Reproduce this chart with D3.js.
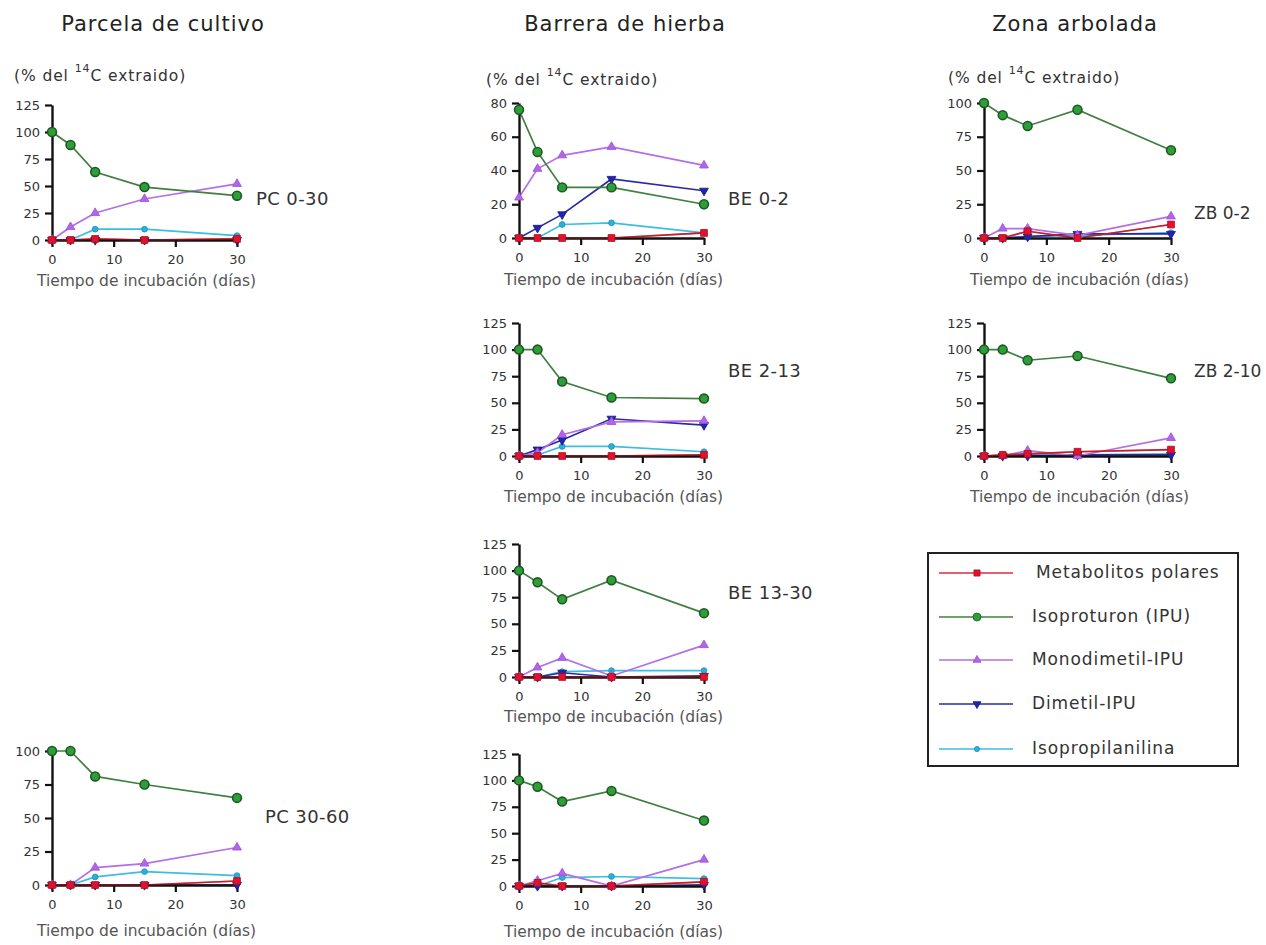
<!DOCTYPE html>
<html>
<head>
<meta charset="utf-8">
<script src="https://cdn.jsdelivr.net/npm/d3@7"></script>
<style>
  html, body { margin: 0; padding: 0; background: #fff; }
  svg { display: block; }
  text { font-family: "DejaVu Sans", "Liberation Sans", sans-serif; }
</style>
</head>
<body>
<svg id="chart" width="1266" height="945"></svg>
<script>
// Incubation times (days)
const days = [0, 3, 7, 15, 30];

// Compounds, in legend order
const compounds = ["Metabolitos polares", "Isoproturon (IPU)", "Monodimetil-IPU", "Dimetil-IPU", "Isopropilanilina"];

// Column headings and panel labels
const columnTitles = ["Parcela de cultivo", "Barrera de hierba", "Zona arbolada"];
const panelLabels = ["PC 0-30", "BE 0-2", "ZB 0-2", "BE 2-13", "ZB 2-10", "BE 13-30", "PC 30-60", ""];

// Axis ticks
const xTicks = [0, 10, 20, 30];
const yTicks125 = [0, 25, 50, 75, 100, 125];
const yTicks100 = [0, 25, 50, 75, 100];
const yTicks80 = [0, 20, 40, 60, 80];

// % of extracted 14C, one row per compound (polar, IPU, monodimetil, dimetil, isopropilanilina)
const pc030 = [
  [0, 0, 1, 0, 1],
  [100, 88, 63, 49, 41],
  [0, 12, 25, 38, 52],
  [0, 0, 0, 0, 0],
  [0, 0, 10, 10, 4]
];
const be02 = [
  [0, 0, 0, 0, 3],
  [76, 51, 30, 30, 20],
  [24, 41, 49, 54, 43],
  [0, 6, 14, 35, 28],
  [0, 0, 8, 9, 3]
];
const zb02 = [
  [0, 0, 5, 0, 10],
  [100, 91, 83, 95, 65],
  [0, 7, 7, 2, 16],
  [0, 0, 1, 3, 3],
  [0, 0, 1, 2, 4]
];
const be213 = [
  [0, 0, 0, 0, 1],
  [100, 100, 70, 55, 54],
  [0, 3, 20, 32, 33],
  [0, 6, 15, 35, 29],
  [0, 1, 9, 9, 4]
];
const zb210 = [
  [0, 1, 2, 4, 6],
  [100, 100, 90, 94, 73],
  [0, 0, 5, 0, 17],
  [0, 0, 0, 1, 1],
  [0, 0, 1, 1, 2]
];
const be1330 = [
  [0, 0, 0, 0, 0],
  [100, 89, 73, 91, 60],
  [0, 9, 18, 1, 30],
  [0, 0, 4, 0, 1],
  [0, 0, 5, 6, 6]
];
const pc3060 = [
  [0, 0, 0, 0, 3],
  [100, 100, 81, 75, 65],
  [0, 0, 13, 16, 28],
  [0, 0, 0, 0, 0],
  [0, 0, 6, 10, 7]
];
const be3060 = [
  [0, 3, 0, 0, 4],
  [100, 94, 80, 90, 62],
  [0, 5, 12, 0, 25],
  [0, 0, 0, 0, 1],
  [0, 0, 8, 9, 7]
];

// Visual style per compound
const styles = [
  { line: "#e0283c", fill: "#e3122c", stroke: "#a80c1c", shape: d3.symbolSquare, size: 46, rot: 0 },
  { line: "#3f7f3f", fill: "#2f9e3a", stroke: "#1c5a22", shape: d3.symbolCircle, size: 62, rot: 0 },
  { line: "#b46ee6", fill: "#b065ea", stroke: "#9a50d6", shape: d3.symbolTriangle, size: 34, rot: 0 },
  { line: "#2a2aa8", fill: "#2323b4", stroke: "#15157a", shape: d3.symbolTriangle, size: 34, rot: 180 },
  { line: "#3cbde2", fill: "#2bb0dc", stroke: "#1a8fb8", shape: d3.symbolCircle, size: 26, rot: 0 }
];
// draw order: isopropilanilina, dimetil, monodimetil, IPU, polar on top
const drawOrder = [4, 3, 2, 1, 0];

const svg = d3.select("#chart");

// Panel frames
const layout = [
  { data: pc030,  label: panelLabels[0], x0: 52,  x1: 237,  y0: 240, y1: 105, max: 125, ticks: yTicks125, lx: 256,  ly: 200, lfs: 18, tGap: 41 },
  { data: be02,   label: panelLabels[1], x0: 519, x1: 704,  y0: 238, y1: 103, max: 80,  ticks: yTicks80,  lx: 728,  ly: 200, lfs: 18, tGap: 42 },
  { data: zb02,   label: panelLabels[2], x0: 984, x1: 1171, y0: 238, y1: 103, max: 100, ticks: yTicks100, lx: 1194, ly: 214, lfs: 17, tGap: 42 },
  { data: be213,  label: panelLabels[3], x0: 519, x1: 704,  y0: 456, y1: 323, max: 125, ticks: yTicks125, lx: 728,  ly: 372, lfs: 18, tGap: 41 },
  { data: zb210,  label: panelLabels[4], x0: 984, x1: 1171, y0: 456, y1: 323, max: 125, ticks: yTicks125, lx: 1194, ly: 372, lfs: 17, tGap: 41 },
  { data: be1330, label: panelLabels[5], x0: 519, x1: 704,  y0: 677, y1: 544, max: 125, ticks: yTicks125, lx: 728,  ly: 594, lfs: 18, tGap: 40 },
  { data: pc3060, label: panelLabels[6], x0: 52,  x1: 237,  y0: 885, y1: 751, max: 100, ticks: yTicks100, lx: 265,  ly: 818, lfs: 18, tGap: 46 },
  { data: be3060, label: panelLabels[7], x0: 519, x1: 704,  y0: 886, y1: 754, max: 125, ticks: yTicks125, lx: 728,  ly: 818, lfs: 18, tGap: 46 }
];

function drawPanel(p) {
  const x = d3.scaleLinear().domain([0, 30]).range([p.x0, p.x1]);
  const y = d3.scaleLinear().domain([0, p.max]).range([p.y0, p.y1]);
  const g = svg.append("g");

  const line = d3.line().x((d, i) => x(days[i])).y(d => y(d));

  // series lines
  drawOrder.forEach(k => {
    g.append("path")
      .attr("d", line(p.data[k]))
      .attr("fill", "none")
      .attr("stroke", styles[k].line)
      .attr("stroke-width", 1.7);
  });

  // axes
  const ax = g.append("g")
    .attr("transform", `translate(0,${p.y0})`)
    .call(d3.axisBottom(x).tickValues(xTicks).tickSize(7).tickSizeOuter(0).tickPadding(8));
  const ay = g.append("g")
    .attr("transform", `translate(${p.x0},0)`)
    .call(d3.axisLeft(y).tickValues(p.ticks).tickSize(7).tickSizeOuter(0).tickPadding(5));
  [ax, ay].forEach(a => {
    a.select(".domain").attr("stroke", "#111").attr("stroke-width", 2.4);
    a.selectAll(".tick line").attr("stroke", "#111").attr("stroke-width", 2.2);
    a.selectAll(".tick text")
      .attr("fill", "#333")
      .style("font-size", "13px")
      .style("font-family", "'DejaVu Sans', sans-serif");
  });
  // baseline polar line sits on the x axis, tinted red
  g.append("path")
    .attr("d", line(p.data[0]))
    .attr("fill", "none")
    .attr("stroke", "#b0141f")
    .attr("stroke-opacity", 0.55)
    .attr("stroke-width", 1.7);

  // markers
  drawOrder.forEach(k => {
    const s = styles[k];
    g.append("g").selectAll("path")
      .data(p.data[k])
      .join("path")
      .attr("d", d3.symbol().type(s.shape).size(s.size))
      .attr("transform", (d, i) => `translate(${x(days[i])},${y(d)}) rotate(${s.rot})`)
      .attr("fill", s.fill)
      .attr("stroke", s.stroke)
      .attr("stroke-width", k === 1 ? 1.6 : 0.8);
  });

  // x axis title
  g.append("text")
    .attr("x", (p.x0 + p.x1) / 2 + 2)
    .attr("y", p.y0 + p.tGap)
    .attr("text-anchor", "middle")
    .attr("dominant-baseline", "middle")
    .attr("fill", "#555")
    .style("font-size", "15.5px")
    .text("Tiempo de incubación (días)");

  // panel label
  if (p.label) {
    g.append("text")
      .attr("x", p.lx)
      .attr("y", p.ly)
      .attr("dominant-baseline", "middle")
      .attr("fill", "#333")
      .style("font-size", p.lfs + "px")
      .style("letter-spacing", p.lfs === 18 ? "0.4px" : "0px")
      .text(p.label);
  }
}

layout.forEach(drawPanel);

// Column headings
const headX = [163, 625, 1075];
columnTitles.forEach((t, i) => {
  svg.append("text")
    .attr("x", headX[i])
    .attr("y", 25)
    .attr("text-anchor", "middle")
    .attr("dominant-baseline", "middle")
    .attr("fill", "#222")
    .style("font-size", "21px")
    .style("letter-spacing", "1px")
    .text(t);
});

// y-axis unit captions on the top row
const unitPos = [[14, 76], [486, 80], [948, 78]];
unitPos.forEach(([ux, uy]) => {
  const t = svg.append("text")
    .attr("x", ux)
    .attr("y", uy)
    .attr("dominant-baseline", "middle")
    .attr("fill", "#333")
    .style("font-size", "15.5px")
    .style("letter-spacing", "0.9px");
  t.append("tspan").text("(% del ");
  t.append("tspan").attr("dy", -7).style("font-size", "11px").text("14");
  t.append("tspan").attr("dy", 7).text("C extraido)");
});

// Legend
const legend = svg.append("g");
legend.append("rect")
  .attr("x", 928).attr("y", 553).attr("width", 310).attr("height", 213)
  .attr("fill", "#fff").attr("stroke", "#222").attr("stroke-width", 2);
const legendRows = [573, 617, 660, 704, 749];
compounds.forEach((name, k) => {
  const s = styles[k];
  const ly = legendRows[k];
  legend.append("line")
    .attr("x1", 939).attr("x2", 1013).attr("y1", ly).attr("y2", ly)
    .attr("stroke", s.line).attr("stroke-width", 1.6);
  legend.append("path")
    .attr("d", d3.symbol().type(s.shape).size(s.size * 0.8))
    .attr("transform", `translate(977,${ly}) rotate(${s.rot})`)
    .attr("fill", s.fill).attr("stroke", s.stroke).attr("stroke-width", 0.8);
  legend.append("text")
    .attr("x", k === 0 ? 1036 : 1032)
    .attr("y", ly)
    .attr("dominant-baseline", "middle")
    .attr("fill", "#333")
    .style("font-size", "17px")
    .style("letter-spacing", "0.9px")
    .text(name);
});
</script>
</body>
</html>
